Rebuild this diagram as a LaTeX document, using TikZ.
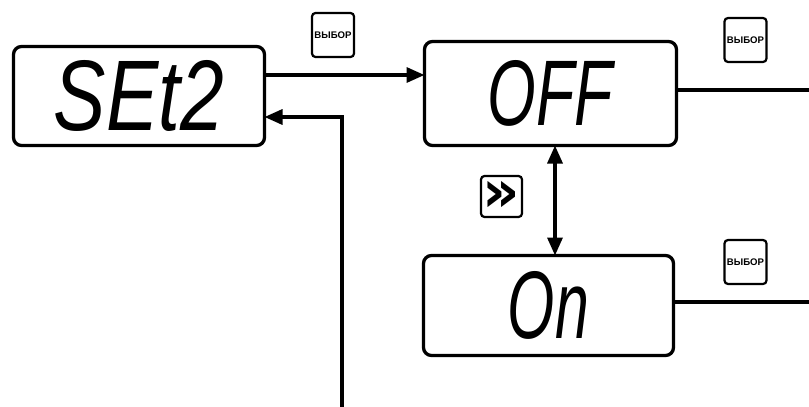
\documentclass[tikz,border=0pt]{standalone}
\usepackage{fontspec}
\setmainfont{Liberation Sans}
\newfontfamily\symfont{DejaVu Sans}
\usetikzlibrary{arrows.meta}
\begin{document}
\begin{tikzpicture}[x=1pt,y=-1pt,
  disp/.style={draw, line width=3.3pt, rounded corners=8pt, inner sep=0pt, outer sep=0pt},
  btn/.style={draw, line width=2.2pt, rounded corners=3.5pt, inner sep=0pt, outer sep=0pt,
    minimum width=42pt, minimum height=44pt, font=\fontsize{9.6}{10}\selectfont\bfseries},
  conn/.style={line width=3.3pt},
  arr/.style={conn, -{Triangle[length=18pt,width=15pt]}},
  dbl/.style={conn, {Triangle[length=18pt,width=15pt]}-{Triangle[length=18pt,width=15pt]}}]
\useasboundingbox (0,0) rectangle (809,407);
% display boxes
\node[disp, minimum width=251pt, minimum height=99pt] (set) at (139,96)
  {\resizebox{170pt}{70pt}{\itshape SEt2}};
\node[disp, minimum width=252pt, minimum height=104pt] (off) at (550.5,93.5)
  {\resizebox{125pt}{65pt}{\itshape OFF}};
\node[disp, minimum width=250pt, minimum height=100pt] (on) at (548.5,305.5)
  {\resizebox{81pt}{67pt}{\itshape On}};
% buttons
\node[btn] (b1) at (333,35) {ВЫБОР};
\node[btn] (b2) at (745.5,40) {ВЫБОР};
\node[btn] (b3) at (745.5,262) {ВЫБОР};
\node[btn, minimum width=41pt, minimum height=41pt] (ff) at (501.5,196.5)
  {\symfont\fontsize{58}{58}\selectfont\raisebox{-2pt}{»}};
% coordinates
\coordinate (top) at (0,75);
\coordinate (ret) at (0,117);
\coordinate (bot) at (342,407);
\coordinate (out1) at (809,90);
\coordinate (out2) at (809,302);
\coordinate (xa) at (555,0);
% connectors
\draw[arr] (set.east |- top) -- (off.west |- top);
\draw[arr] (bot) |- (set.east |- ret);
\draw[conn] (off.east |- out1) -- (out1);
\draw[conn] (on.east |- out2) -- (out2);
\draw[dbl] (off.south -| xa) -- (on.north -| xa);
\end{tikzpicture}
\end{document}
